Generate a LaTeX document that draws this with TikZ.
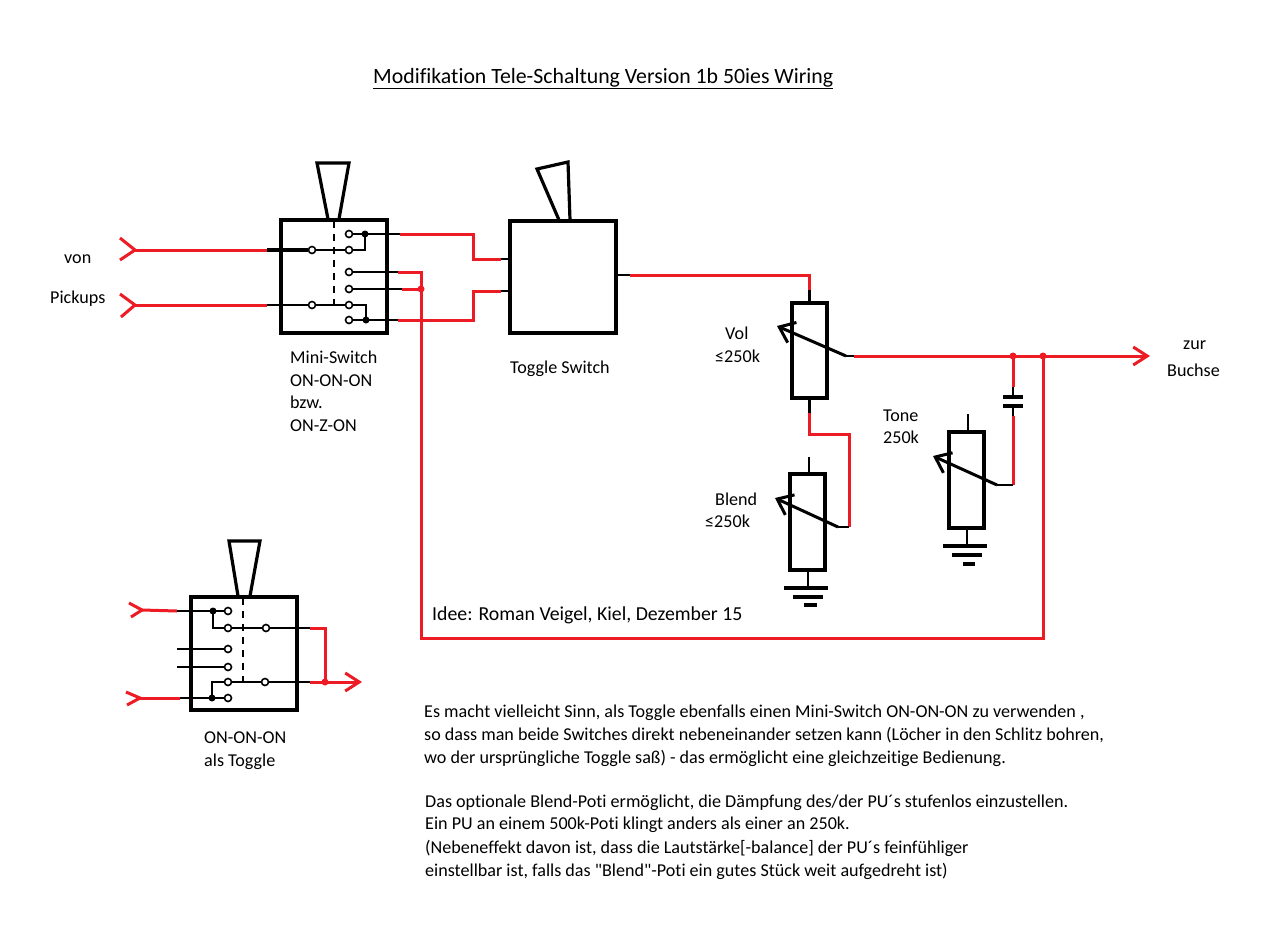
\documentclass[tikz,border=0pt]{standalone}
\usepackage{fontspec}
\setmainfont{Carlito}[Ligatures={TeXOff,CommonOff}]
\usetikzlibrary{arrows.meta,positioning}
\definecolor{wirered}{HTML}{ED1C24}

\begin{document}
\begin{tikzpicture}
		[x=1pt,y=-1pt,
		boxsty/.style={rectangle,draw,line width=3.2pt,inner sep=0pt},
		consty/.style={circle,draw,fill=white,line width=1.6pt,inner sep=0pt,minimum size=7pt},
		dotsty/.style={circle,inner sep=0pt,minimum size=7pt},
		redsty/.style={draw=wirered,line width=3pt,line join=miter},
		blacksty/.style={draw=black,line width=2.7pt},
		thicksty/.style={draw=black,line width=3.2pt,line cap=round},
		wipsty/.style={draw=black,line width=3pt,-{Straight Barb[length=14pt,width=22pt]}},
		barbsty/.style={draw=wirered,line width=3pt,-{Straight Barb[length=14pt,width=18pt]}},
		labsty/.style={font=\fontsize{18.1}{22.4}\selectfont,anchor=base west,inner sep=0pt,align=left}]
		\useasboundingbox (0,0) rectangle (1280,938);
		
		% boxes
		\node (switch) at (334,276.5) [boxsty,minimum width=106pt,minimum height=113pt] {};
		\node (toggle) at (563,277) [boxsty,minimum width=106pt,minimum height=112pt] {};
		\node (mini) at (244,653.5) [boxsty,minimum width=106pt,minimum height=113pt] {};
		\node (vol) at (809.5,350.5) [boxsty,minimum width=35pt,minimum height=95pt] {};
		\node (blend) at (807.5,522) [boxsty,minimum width=35pt,minimum height=96pt] {};
		\node (tone) at (966.5,480) [boxsty,minimum width=35pt,minimum height=96pt] {};
		
		% contacts
		\foreach \nam/\px/\py in {a1/349/234,a2/349/250,a3/312/250,a4/349/272,a5/349/289,a6/349/305,
				a7/349/320,a8/312/305,b1/228/611,b2/228/628,b3/266/628,b4/228/649,b5/228/667,
				b6/228/682,b7/228/698,b8/265/682}
			\node (\nam) at (\px,\py) [consty] {};
		
		% junctions
		\foreach \nam/\px/\py in {j1/365/234,j2/421/289,j3/366/320,j4/1013/356,j5/1043/356,
				j6/213/611,j7/212/698,j8/325/682}
			\node (\nam) at (\px,\py) [dotsty] {};
		
		\foreach \nam/\px/\py in {in1/135/250,in1a/120/238,in1b/120/260,in1c/267/250,
				in2/135/305,in2a/120/294,in2b/121/317,in2c/267/305,
				t1/400/234,t2/473/259,t3/501/259,t4/509/259,t5/398/272,t6/402/289,
				t7/398/320,t8/473/291,t9/501/291,t10/509/291,t11/421/272,t12/421/638,
				o1/630/275,o2/809.5/290,o3/809.5/303,
				v1/809.5/398,v2/809.5/413,v3/809.5/434,v4/849/527,v5/838/527,
				w1/854/356,w2/846/356,w3/777/326,out/1150/356,
				c1/1013/387,c2/1013/397,c3/1013/406,c4/1013/416,c5/1013/485,c6/997/485,
				tw/933/456,bw/775/498,
				p1a/1003/397,p1b/1023/397,p2a/1003/406,p2b/1023/406,
				bt/809/457,bb/808/570,g1/808/588,g1a/784/588,g1b/828/588,g2a/793/597,g2b/823/597,g3a/804/605,g3b/817/605,
				tt/968/414,tb/967/528,g4/967/546,g4a/943/546,g4b/987/546,g5a/952/555,g5b/982/555,g6a/963/564,g6b/975/564,
				m1/142/610,m1a/129/603,m1b/131/617,m1c/177/611,
				m2/140/698,m2a/126/692,m2b/127/705,m2c/180/698,
				m3/177/649,m4/177/667,m5/310/628,m6/310/682,m7/325/628,m8/362/682,
				lev1a/317/163,lev1b/349/163,lev1c/339/219,lev1d/328/219,
				lev2a/537/169,lev2b/568/162,lev2c/570/220,lev2d/559/220,
				lev3a/229/541,lev3b/260/541,lev3c/250/596,lev3d/238/596,
				dash1/334/221,dash2/334/305,dash3/243/598,dash4/243/682}
			\coordinate (\nam) at (\px,\py);
		
		% levers
		\draw[thicksty] (lev1d) -- (lev1a) -- (lev1b) -- (lev1c);
		\draw[thicksty] (lev2d) -- (lev2a) -- (lev2b) -- (lev2c);
		\draw[thicksty] (lev3d) -- (lev3a) -- (lev3b) -- (lev3c);
		\draw[line width=2pt,dash pattern=on 7pt off 6pt] (dash1) -- (dash2);
		\draw[line width=2pt,dash pattern=on 7pt off 6pt] (dash3) -- (dash4);
		
		% first switch
		\draw[redsty] (in1a) -- (in1) -- (in1b);
		\draw[redsty] (in2a) -- (in2) -- (in2b);
		\draw[redsty] (in1) -- (in1c);
		\draw[redsty] (in2) -- (in2c);
		\draw[thicksty,line cap=butt] (in1c) -- (a3);
		\draw[blacksty] (in2c) -- (a8);
		\draw[blacksty] (a3) -- (a2);
		\draw[blacksty] (a8) -- (a6);
		\draw[blacksty] (a1) -- (t1);
		\draw[blacksty] (a2) -| (j1.center);
		\draw[blacksty] (a4) -- (t5);
		\draw[blacksty] (a5) -- (t6);
		\draw[blacksty] (a6) -| (j3.center);
		\draw[blacksty] (a7) -- (t7);
		\fill (j1) circle (3.5pt);
		\fill (j3) circle (3.5pt);
		
		% wires to the toggle
		\draw[redsty] (t1) -| (t2) -- (t3);
		\draw[blacksty] (t3) -- (t4);
		\draw[redsty] (t7) -| (t8) -- (t9);
		\draw[blacksty] (t9) -- (t10);
		\draw[redsty] (t5) -- (t11) -- (t12) -| (j5.center);
		\draw[redsty] (t6) -- (j2.center);
		\fill[wirered] (j2) circle (3.5pt);
		
		% output and volume
		\draw[blacksty] (toggle.east |- o1) -- (o1);
		\draw[redsty] (o1) -| (o2);
		\draw[blacksty] (o2) -- (o3);
		\draw[wipsty] (w2) -- (w3);
		\draw[blacksty] (w2) -- (w1);
		\draw[barbsty] (w1) -- (out);
		\fill[wirered] (j4) circle (3.5pt);
		\fill[wirered] (j5) circle (3.5pt);
		\draw[blacksty] (v1) -- (v2);
		\draw[redsty] (v2) |- (v3) -| (v4);
		
		% blend
		\draw[blacksty] (v4) -- (v5);
		\draw[wipsty] (v5) -- (bw);
		\draw[blacksty] (bt) -- (blend.north -| bt);
		\draw[blacksty] (bb) -- (g1);
		\draw[thicksty,line cap=butt] (g1a) -- (g1b);
		\draw[thicksty,line cap=butt] (g2a) -- (g2b);
		\draw[thicksty,line cap=butt] (g3a) -- (g3b);
		
		% tone
		\draw[redsty] (j4.center) -- (c1);
		\draw[blacksty] (c1) -- (c2);
		\draw[thicksty,line cap=butt] (p1a) -- (p1b);
		\draw[thicksty,line cap=butt] (p2a) -- (p2b);
		\draw[blacksty] (c3) -- (c4);
		\draw[redsty] (c4) -- (c5);
		\draw[blacksty] (c5) -- (c6);
		\draw[wipsty] (c6) -- (tw);
		\draw[blacksty] (tt) -- (tone.north -| tt);
		\draw[blacksty] (tb) -- (g4);
		\draw[thicksty,line cap=butt] (g4a) -- (g4b);
		\draw[thicksty,line cap=butt] (g5a) -- (g5b);
		\draw[thicksty,line cap=butt] (g6a) -- (g6b);
		
		% second switch
		\draw[redsty] (m1a) -- (m1) -- (m1b);
		\draw[redsty] (m2a) -- (m2) -- (m2b);
		\draw[redsty] (m1) -- (m1c);
		\draw[redsty] (m2) -- (m2c);
		\draw[blacksty] (m1c) -- (b1);
		\draw[blacksty] (m2c) -- (b7);
		\draw[blacksty] (m3) -- (b4);
		\draw[blacksty] (m4) -- (b5);
		\draw[blacksty] (j6.center) |- (b2);
		\draw[blacksty] (j7.center) |- (b6);
		\draw[blacksty] (b2) -- (b3);
		\draw[blacksty] (b6) -- (b8);
		\draw[blacksty] (b3) -- (m5);
		\draw[blacksty] (b8) -- (m6);
		\draw[redsty] (m5) -| (j8.center);
		\draw[barbsty] (m6) -- (m8);
		\fill (j6) circle (3.5pt);
		\fill (j7) circle (3.5pt);
		\fill[wirered] (j8) circle (3.5pt);
		
		% texts
		\node (title) at (373,83) [labsty,font=\fontsize{21.8}{24}\selectfont] {\underline{Modifikation Tele-Schaltung Version 1b 50ies Wiring}};
		\node (von) at (64,263) [labsty] {von};
		\node (pickups) at (50,303) [labsty] {Pickups};
		\node (mininame) at (290,431) [labsty] {Mini-Switch\\ON-ON-ON\\bzw.\\ON-Z-ON};
		\node (togglename) at (510,373) [labsty] {Toggle Switch};
		\node (volname) at (725,339) [labsty] {Vol};
		\node (volval) at (715,362) [labsty] {≤250k};
		\node (blendname) at (715,505) [labsty] {Blend};
		\node (blendval) at (705,527) [labsty] {≤250k};
		\node (tonename) at (883,421) [labsty] {Tone};
		\node (toneval) at (883,443) [labsty] {250k};
		\node (zur) at (1183,349) [labsty] {zur};
		\node (buchse) at (1167,376) [labsty] {Buchse};
		\node (idee) at (432,620) [labsty,font=\fontsize{19.8}{22}\selectfont] {Idee: Roman Veigel, Kiel, Dezember 15};
		\node (onname) at (204,766) [labsty] {ON-ON-ON\\als Toggle};
		\node (para1) at (424,717) [labsty] {Es macht vielleicht Sinn, als Toggle ebenfalls einen Mini-Switch ON-ON-ON zu verwenden ,};
		\node (para2) at (424,740) [labsty] {so dass man beide Switches direkt nebeneinander setzen kann (Löcher in den Schlitz bohren,};
		\node (para3) at (424,763) [labsty] {wo der ursprüngliche Toggle saß) - das ermöglicht eine gleichzeitige Bedienung.};
		\node (para4) at (425,807) [labsty] {Das optionale Blend-Poti ermöglicht, die Dämpfung des/der PU´s stufenlos einzustellen.};
		\node (para5) at (425,829) [labsty] {Ein PU an einem 500k-Poti klingt anders als einer an 250k.};
		\node (para6) at (425,853) [labsty] {(Nebeneffekt davon ist, dass die Lautstärke[-balance] der PU´s feinfühliger};
		\node (para7) at (425,876) [labsty] {einstellbar ist, falls das "Blend"-Poti ein gutes Stück weit aufgedreht ist)};
	\end{tikzpicture}
\end{document}
